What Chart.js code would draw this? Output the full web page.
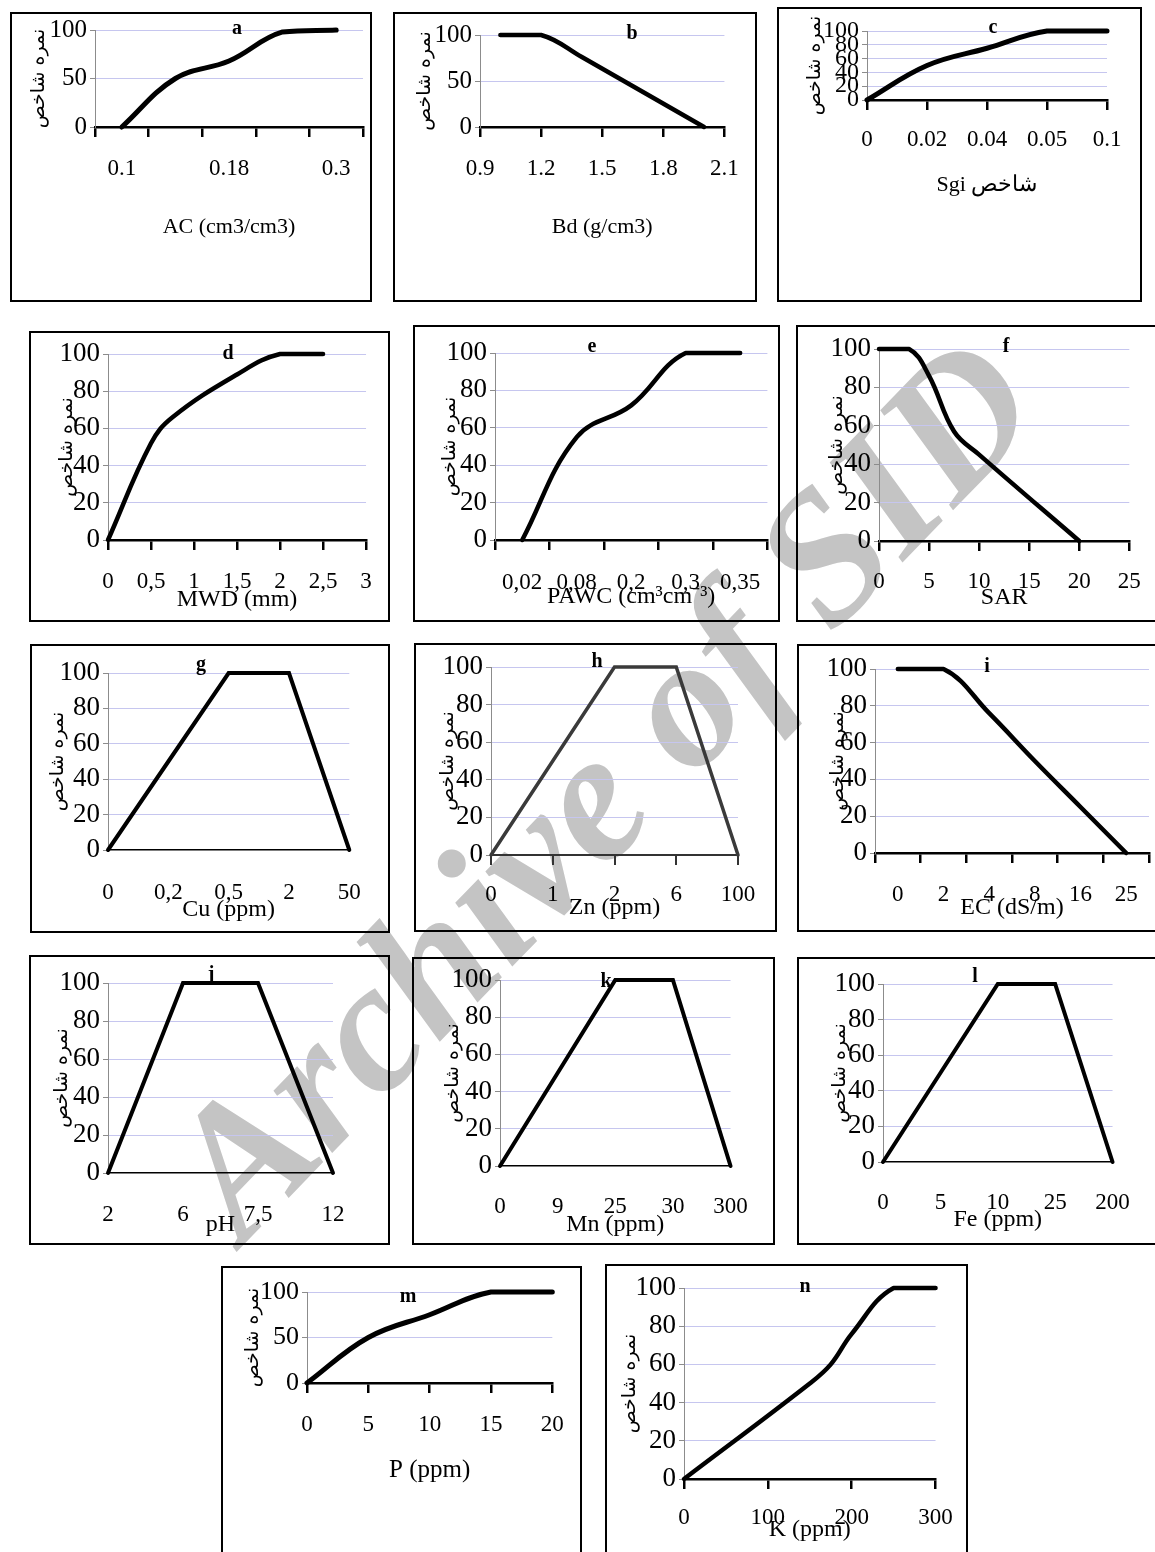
<!DOCTYPE html>
<html>
<head>
<meta charset="utf-8">
<script src="https://cdn.jsdelivr.net/npm/chart.js@4.4.0/dist/chart.umd.min.js"></script>
<style>
html, body { margin: 0; padding: 0; background: #fff; }
body { position: relative; width: 1155px; height: 1552px; overflow: hidden; }
.box { position: absolute; border: 2px solid #000; box-sizing: border-box; z-index: 1; }
.box canvas { position: absolute; left: -2px; top: -2px; }
#wm { position: absolute; left: 600px; top: 785px; transform: translate(-50%, -50%) rotate(-46deg);
      font: italic bold 186px "Liberation Serif"; color: #c4c4c4; white-space: nowrap; z-index: 0; }
</style>
</head>
<body>
<div id="wm">Archive of SID</div>
<script>
const yTitle = 'نمره شاخص';

// a - AC
const acLabels = ['0.1', '', '0.18', '', '0.3'];
const acScore = [0, 50, 68, 98, 100];
// b - Bd
const bdTicks = [0.9, 1.2, 1.5, 1.8, 2.1];
const bdX = [1.0, 1.2, 1.4, 2.0];
const bdScore = [100, 100, 76, 0];
// c - Sgi
const sgiLabels = ['0', '0.02', '0.04', '0.05', '0.1'];
const sgiScore = [0, 50, 75, 100, 100];
// d - MWD
const mwdTicks = [0, 0.5, 1, 1.5, 2, 2.5, 3];
const mwdX = [0, 0.5, 0.75, 1.5, 2, 2.5];
const mwdScore = [0, 52, 66, 89, 100, 100];
// e - PAWC
const pawcLabels = ['0,02', '0,08', '0,2', '0,3', '0,35'];
const pawcScore = [0, 55, 72, 100, 100];
// f - SAR
const sarTicks = [0, 5, 10, 15, 20, 25];
const sarX = [0, 3, 5, 7.5, 10, 20];
const sarScore = [100, 100, 86, 57, 45, 0];
// g - Cu
const cuLabels = ['0', '0,2', '0,5', '2', '50'];
const cuScore = [0, 50, 100, 100, 0];
// h - Zn
const znLabels = ['0', '1', '2', '6', '100'];
const znScore = [0, 50, 100, 100, 0];
// i - EC
const ecLabels = ['0', '2', '4', '8', '16', '25'];
const ecScore = [100, 100, 76, 50, 25, 0];
// j - pH
const phLabels = ['2', '6', '7,5', '12'];
const phScore = [0, 100, 100, 0];
// k - Mn
const mnLabels = ['0', '9', '25', '30', '300'];
const mnScore = [0, 50, 100, 100, 0];
// l - Fe
const feLabels = ['0', '5', '10', '25', '200'];
const feScore = [0, 50, 100, 100, 0];
// m - P
const pTicks = [0, 5, 10, 15, 20];
const pX = [0, 5, 10, 15, 20];
const pScore = [0, 50, 75, 100, 100];
// n - K
const kTicks = [0, 100, 200, 300];
const kX = [0, 150, 175, 200, 250, 300];
const kScore = [0, 50, 60, 76, 100, 100];

const serif = '"Liberation Serif"';
Chart.defaults.font.family = serif;
const comma = v => String(v).replace('.', ',');

const panelLetter = {
  id: 'panelLetter',
  afterDraw(chart, args, o) {
    const c = chart.ctx;
    c.save();
    c.font = 'bold 20px ' + serif;
    c.fillStyle = '#000';
    c.textAlign = 'center';
    c.textBaseline = 'middle';
    c.fillText(o.text, o.x, o.y);
    c.restore();
  }
};

function makeChart(p) {
  const [bx, by, bw, bh] = p.box;
  const div = document.createElement('div');
  div.className = 'box';
  div.style.cssText = `left:${bx}px;top:${by}px;width:${bw}px;height:${bh}px`;
  const cv = document.createElement('canvas');
  cv.width = bw; cv.height = bh;
  div.appendChild(cv);
  document.body.appendChild(div);

  const ax = p.plot[0] - bx, at = p.plot[1] - by, ar = p.plot[2] - bx, ab = p.plot[3] - by;
  const yTitleSize = 19;
  const yW = yTitleSize * 1.2 / 2 - p.yDx;
  const tl = p.tickMarks ? 10 : 0;
  const xFont = p.xFont || 23, xTitleFont = p.xTitleFont || 24;
  const xH = bh - ab;
  const xPad = (p.labelY - by) - ab - tl - xFont * 1.2 / 2;
  const xTitlePad = bh - (p.titleY - by) - xTitleFont * 1.2 / 2;
  const axisColor = p.axisColor || '#000';
  const isCat = p.kind === 'cat';

  const xScale = {
    type: isCat ? 'category' : 'linear',
    offset: !!p.offset,
    grid: { display: true, drawOnChartArea: false, drawTicks: !!p.tickMarks, tickLength: 10, offset: !!p.offset,
            color: axisColor, lineWidth: p.axisW, tickWidth: p.axisW, tickColor: axisColor },
    border: { display: true, color: axisColor, width: p.axisW },
    ticks: { autoSkip: false, maxRotation: 0, minRotation: 0, padding: xPad, color: '#000', font: { size: xFont } },
    title: { display: true, text: p.xTitle, color: '#000', font: { size: xTitleFont }, padding: { top: 0, bottom: xTitlePad } },
    afterFit: s => { s.height = xH; }
  };
  if (!isCat) {
    xScale.min = p.ticks[0];
    xScale.max = p.ticks[p.ticks.length - 1];
    xScale.afterBuildTicks = s => { s.ticks = p.ticks.map(v => ({ value: v })); };
    xScale.ticks.callback = v => p.fmt(v);
  }

  const yScale = {
    min: 0, max: 100,
    ticks: { stepSize: p.yStep, autoSkip: false, padding: 3, color: '#000', font: { size: p.yFont || 27 } },
    grid: { color: ctx => ctx.tick && ctx.tick.value === 0 ? 'rgba(0,0,0,0)' : '#c6c6ef', lineWidth: 1,
            drawTicks: true, tickLength: 5, tickColor: '#8c8c8c', tickWidth: 1 },
    border: { display: true, color: '#8c8c8c', width: 1 },
    title: { display: true, text: yTitle, color: '#000', font: { family: '"DejaVu Sans"', size: yTitleSize }, padding: 0 },
    afterFit: s => { s.width = yW; }
  };

  const data = isCat ? p.ys : p.xs.map((x, i) => ({ x: x, y: p.ys[i] }));

  new Chart(cv, {
    type: 'line',
    data: {
      labels: isCat ? p.labels : undefined,
      datasets: [{
        data: data,
        borderColor: p.lineColor || '#000',
        borderWidth: p.lineW,
        tension: p.tension,
        pointRadius: 0,
        fill: false,
        clip: false,
        borderCapStyle: 'round',
        borderJoinStyle: p.tension ? 'round' : 'miter'
      }]
    },
    options: {
      responsive: false,
      animation: false,
      devicePixelRatio: 1,
      layout: { padding: { left: ax - yW, top: at, right: bw - ar, bottom: 0 } },
      plugins: {
        legend: { display: false },
        tooltip: { enabled: false },
        panelLetter: { text: p.letter, x: p.letterPos[0] - bx, y: p.letterPos[1] - by }
      },
      scales: { x: xScale, y: yScale }
    },
    plugins: [panelLetter]
  });
}

const panels = [
  { letter: 'a', box: [10, 12, 362, 290], plot: [95, 27, 363, 127], labelY: 169, titleY: 227, xTitle: 'AC (cm3/cm3)',
    yDx: -56, yStep: 50, kind: 'cat', labels: acLabels, ys: acScore, offset: true, tickMarks: true, axisW: 2.5,
    lineW: 5, tension: 0.4, letterPos: [237, 29], yFont: 25, xTitleFont: 22 },
  { letter: 'b', box: [393, 12, 364, 290], plot: [480, 35, 735, 127], labelY: 169, titleY: 227, xTitle: 'Bd (g/cm3)',
    yDx: -55, yStep: 50, kind: 'lin', ticks: bdTicks, xs: bdX, ys: bdScore, fmt: v => v.toFixed(1), tickMarks: true,
    axisW: 2.5, lineW: 4.5, tension: 0.4, letterPos: [632, 34], yFont: 25, xTitleFont: 22 },
  { letter: 'c', box: [777, 7, 365, 295], plot: [867, 31, 1107, 100], labelY: 140, titleY: 185, xTitle: 'Sgi شاخص',
    yDx: -52, yStep: 20, kind: 'cat', labels: sgiLabels, ys: sgiScore, offset: false, tickMarks: true, axisW: 2.5,
    lineW: 5, tension: 0.4, letterPos: [993, 28], yFont: 24, xTitleFont: 22 },
  { letter: 'd', box: [29, 331, 361, 291], plot: [108, 354, 372, 540], labelY: 582, titleY: 600, xTitle: 'MWD (mm)',
    yDx: -41, yStep: 20, kind: 'lin', ticks: mwdTicks, xs: mwdX, ys: mwdScore, fmt: comma, tickMarks: true,
    axisW: 2.5, lineW: 4.5, tension: 0.4, letterPos: [228, 354] },
  { letter: 'e', box: [413, 325, 367, 297], plot: [495, 353, 775, 540], labelY: 583, titleY: 597, xTitle: 'PAWC (cm³cm⁻³)',
    yDx: -45, yStep: 20, kind: 'cat', labels: pawcLabels, ys: pawcScore, offset: true, tickMarks: true, axisW: 2.5,
    lineW: 4.5, tension: 0.4, letterPos: [592, 347] },
  { letter: 'f', box: [796, 325, 362, 297], plot: [879, 349, 1142, 541], labelY: 582, titleY: 598, xTitle: 'SAR',
    yDx: -42, yStep: 20, kind: 'lin', ticks: sarTicks, xs: sarX, ys: sarScore, fmt: v => String(v), tickMarks: true,
    axisW: 2.5, lineW: 4.5, tension: 0.4, letterPos: [1006, 347] },
  { letter: 'g', box: [30, 644, 360, 289], plot: [108, 673, 354, 850], labelY: 893, titleY: 910, xTitle: 'Cu (ppm)',
    yDx: -50, yStep: 20, kind: 'cat', labels: cuLabels, ys: cuScore, offset: false, tickMarks: false, axisW: 1.5,
    lineW: 4, tension: 0, letterPos: [201, 665] },
  { letter: 'h', box: [414, 643, 363, 289], plot: [491, 667, 738, 855], labelY: 895, titleY: 908, xTitle: 'Zn (ppm)',
    yDx: -43, yStep: 20, kind: 'cat', labels: znLabels, ys: znScore, offset: false, tickMarks: true, axisW: 2,
    axisColor: '#333', lineColor: '#3a3a3a', lineW: 3.5, tension: 0, letterPos: [597, 662] },
  { letter: 'i', box: [797, 644, 360, 288], plot: [875, 669, 1149, 853], labelY: 895, titleY: 908, xTitle: 'EC (dS/m)',
    yDx: -37, yStep: 20, kind: 'cat', labels: ecLabels, ys: ecScore, offset: true, tickMarks: true, axisW: 2.5,
    lineW: 4.5, tension: 0.4, letterPos: [987, 667] },
  { letter: 'j', box: [29, 955, 361, 290], plot: [108, 983, 333, 1173], labelY: 1215, titleY: 1225, xTitle: 'pH',
    yDx: -46, yStep: 20, kind: 'cat', labels: phLabels, ys: phScore, offset: false, tickMarks: false, axisW: 1.5,
    lineW: 4, tension: 0, letterPos: [211, 975] },
  { letter: 'k', box: [412, 957, 363, 288], plot: [500, 980, 751, 1166], labelY: 1207, titleY: 1225, xTitle: 'Mn (ppm)',
    yDx: -47, yStep: 20, kind: 'cat', labels: mnLabels, ys: mnScore, offset: false, tickMarks: false, axisW: 1.5,
    lineW: 4, tension: 0, letterPos: [606, 982] },
  { letter: 'l', box: [797, 957, 360, 288], plot: [883, 984, 1129, 1162], labelY: 1203, titleY: 1220, xTitle: 'Fe (ppm)',
    yDx: -43, yStep: 20, kind: 'cat', labels: feLabels, ys: feScore, offset: false, tickMarks: false, axisW: 1.5,
    lineW: 4, tension: 0, letterPos: [975, 977] },
  { letter: 'm', box: [221, 1266, 361, 300], plot: [307, 1292, 567, 1383], labelY: 1425, titleY: 1470, xTitle: 'P (ppm)',
    yDx: -54, yStep: 50, kind: 'lin', ticks: pTicks, xs: pX, ys: pScore, fmt: v => String(v), tickMarks: true,
    axisW: 2.5, lineW: 5, tension: 0.4, letterPos: [408, 1297], yFont: 26, xTitleFont: 25 },
  { letter: 'n', box: [605, 1264, 363, 300], plot: [684, 1288, 943, 1479], labelY: 1518, titleY: 1530, xTitle: 'K (ppm)',
    yDx: -54, yStep: 20, kind: 'lin', ticks: kTicks, xs: kX, ys: kScore, fmt: v => String(v), tickMarks: true,
    axisW: 2.5, lineW: 4.5, tension: 0.4, letterPos: [805, 1287] }
];

panels.forEach(makeChart);
</script>
</body>
</html>
